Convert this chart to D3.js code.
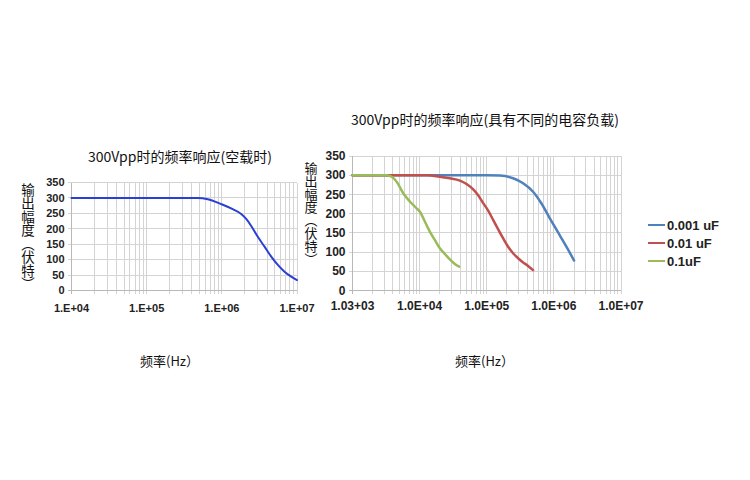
<!DOCTYPE html>
<html><head><meta charset="utf-8">
<script src="https://cdn.jsdelivr.net/npm/d3@7"></script>
<style>
html,body{margin:0;padding:0;background:#fff;}
svg{display:block;}
</style></head>
<body>
<svg id="chart" width="750" height="480"></svg>
<script>
// ---------- data ----------
const leftTitle = "300Vpp时的频率响应(空载时)";
const rightTitle = "300Vpp时的频率响应(具有不同的电容负载)";
const yTitle = "输出幅度（伏特）";
const xTitle = "频率(Hz）";

const yTicks = [0, 50, 100, 150, 200, 250, 300, 350];

const leftXTicks = [1e4, 1e5, 1e6, 1e7];
const leftXLabels = ["1.E+04", "1.E+05", "1.E+06", "1.E+07"];

const rightXTicks = [1e3, 1e4, 1e5, 1e6, 1e7];
const rightXLabels = ["1.03+03", "1.0E+04", "1.0E+05", "1.0E+06", "1.0E+07"];

// no-load response
const noLoadFreq = [1e4, 4.8e5, 6.5e5, 9.8e5, 1.33e6, 1.81e6, 2.11e6, 2.46e6, 3.01e6, 3.7e6, 4.54e6, 5.56e6, 6.82e6, 8.37e6, 1e7];
const noLoadVolt = [300, 300, 296, 280, 266, 248, 232, 209, 174, 142, 110, 83, 61, 45, 34];

// capacitive loads
const seriesNames = ["0.001 uF", "0.01 uF", "0.1uF"];
const seriesColors = ["#4f81bd", "#c0504d", "#9bbb59"];
const c001Freq = [1e3, 1e5, 1.57e5, 2.47e5, 3.48e5, 4.9e5, 6.5e5, 8.7e5, 1.22e6, 1.73e6, 2.0e6];
const c001Volt = [300, 300, 299, 292, 279, 257, 227, 188, 144, 98, 78];
const c01Freq = [1e3, 1.29e4, 2.0e4, 2.82e4, 3.98e4, 5.0e4, 6.28e4, 7.45e4, 8.8e4, 1.05e5, 1.25e5, 1.48e5, 1.75e5, 2.08e5, 2.47e5, 2.93e5, 3.48e5, 4.13e5, 4.9e5];
const c01Volt = [300, 300, 296, 292, 286, 277, 263, 248, 228, 208, 183, 159, 136, 114, 97, 84, 73, 64, 53];
const c1Freq = [1e3, 3.23e3, 3.83e3, 4.55e3, 5.7e3, 7.2e3, 9.0e3, 1.01e4, 1.2e4, 1.42e4, 1.69e4, 2.0e4, 2.38e4, 2.82e4, 3.35e4, 3.88e4];
const c1Volt = [300, 300, 296, 283, 253, 231, 214, 205, 179, 153, 131, 110, 95, 81, 69, 62];

// ---------- drawing ----------
const svg = d3.select("#chart");
const gridColor = "#d4d4d4";
const axisColor = "#b8b8b8";
const cjkFont = "'Noto Sans CJK SC', 'Noto Sans', sans-serif";
const numFont = "'Liberation Sans', Arial, sans-serif";

function drawPanel(opt) {
  const x = d3.scaleLog().domain(opt.xDomain).range([opt.x0, opt.x1]);
  const y = d3.scaleLinear().domain([0, 350]).range([opt.y0, opt.y1]);
  const g = svg.append("g");

  // minor + major vertical grid
  const vTicks = x.ticks();
  g.append("g").selectAll("line").data(vTicks).join("line")
    .attr("x1", d => x(d)).attr("x2", d => x(d))
    .attr("y1", y(350)).attr("y2", y(0) + 3)
    .attr("stroke", gridColor).attr("stroke-width", 1)
    .attr("shape-rendering", "crispEdges");

  // horizontal grid
  g.append("g").selectAll("line").data(yTicks).join("line")
    .attr("x1", x.range()[0] - 4).attr("x2", x.range()[1])
    .attr("y1", d => y(d)).attr("y2", d => y(d))
    .attr("stroke", d => d === 0 ? axisColor : gridColor).attr("stroke-width", 1)
    .attr("shape-rendering", "crispEdges");

  // y axis line
  g.append("line")
    .attr("x1", x.range()[0]).attr("x2", x.range()[0])
    .attr("y1", y(350)).attr("y2", y(0) + 3)
    .attr("stroke", axisColor).attr("shape-rendering", "crispEdges");

  // y tick labels
  g.append("g").selectAll("text").data(yTicks).join("text")
    .attr("x", x.range()[0] - opt.yLabelGap).attr("y", d => y(d))
    .attr("dy", "0.35em").attr("text-anchor", "end")
    .attr("font-family", numFont).attr("font-weight", "bold")
    .attr("font-size", opt.tickSize).attr("fill", "#222")
    .text(d => d);

  // x tick labels
  g.append("g").selectAll("text").data(opt.xTicks).join("text")
    .attr("x", d => x(d)).attr("y", y(0) + opt.xLabelGap)
    .attr("text-anchor", "middle")
    .attr("font-family", numFont).attr("font-weight", "bold")
    .attr("font-size", opt.tickSize).attr("fill", "#222")
    .text((d, i) => opt.xLabels[i]);

  // title
  g.append("text").attr("x", opt.titleX).attr("y", opt.titleY)
    .attr("text-anchor", "middle").attr("font-family", cjkFont)
    .attr("font-size", 14).attr("fill", "#111").text(opt.title);

  // y title (vertical)
  g.append("text").attr("x", opt.yTitleX).attr("y", opt.yTitleY)
    .attr("font-family", cjkFont).attr("font-size", opt.yTitleSize)
    .attr("fill", "#111")
    .style("writing-mode", "vertical-rl")
    .text(yTitle);

  // x title
  g.append("text").attr("x", opt.xTitleX).attr("y", 366)
    .attr("font-family", cjkFont).attr("font-size", 13)
    .attr("fill", "#111").text(xTitle);

  const line = d3.line().x(d => x(d[0])).y(d => y(d[1])).curve(d3.curveMonotoneX);
  opt.series.forEach(s => {
    g.append("path").datum(d3.zip(s.freq, s.volt))
      .attr("d", line).attr("fill", "none")
      .attr("stroke", s.color).attr("stroke-width", s.width)
      .attr("stroke-linejoin", "round").attr("stroke-linecap", "round");
  });
  return g;
}

drawPanel({
  xDomain: [1e4, 1e7], x0: 71.5, x1: 297, y0: 290.5, y1: 182.5,
  xTicks: leftXTicks, xLabels: leftXLabels, tickSize: 11,
  yLabelGap: 7, xLabelGap: 21,
  title: leftTitle, titleX: 180, titleY: 162,
  yTitleX: 28, yTitleY: 183, yTitleSize: 13.5,
  xTitleX: 140,
  series: [{ freq: noLoadFreq, volt: noLoadVolt, color: "#2a3fd4", width: 2 }]
});

drawPanel({
  xDomain: [1e3, 1e7], x0: 352.5, x1: 621, y0: 290.5, y1: 156,
  xTicks: rightXTicks, xLabels: rightXLabels, tickSize: 12,
  yLabelGap: 7, xLabelGap: 19,
  title: rightTitle, titleX: 485, titleY: 125,
  yTitleX: 311, yTitleY: 162, yTitleSize: 13,
  xTitleX: 455,
  series: [
    { freq: c001Freq, volt: c001Volt, color: seriesColors[0], width: 2.5 },
    { freq: c01Freq, volt: c01Volt, color: seriesColors[1], width: 2.5 },
    { freq: c1Freq, volt: c1Volt, color: seriesColors[2], width: 2.5 }
  ]
});

// legend
const legend = svg.append("g").selectAll("g").data(seriesNames).join("g")
  .attr("transform", (d, i) => `translate(648, ${225 + i * 18})`);
legend.append("line").attr("x1", 0).attr("x2", 17).attr("y1", 0).attr("y2", 0)
  .attr("stroke", (d, i) => seriesColors[i]).attr("stroke-width", 2);
legend.append("text").attr("x", 19).attr("y", 0).attr("dy", "0.36em")
  .attr("font-family", numFont).attr("font-weight", "bold").attr("font-size", 13)
  .attr("fill", "#222").text(d => d);
</script>
</body></html>
